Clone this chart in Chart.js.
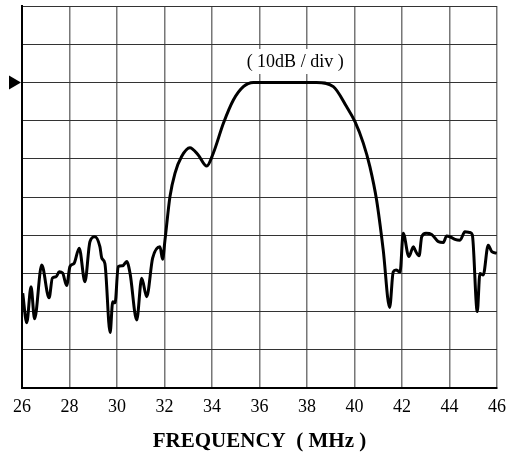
<!DOCTYPE html>
<html>
<head>
<meta charset="utf-8">
<script src="https://cdn.jsdelivr.net/npm/chart.js@4.4.1/dist/chart.umd.min.js"></script>
<style>
  html, body { margin: 0; padding: 0; background: #fff; }
  #wrap { width: 506px; height: 455px; }
</style>
</head>
<body>
<div id="wrap"><canvas id="spec"></canvas></div>
<script>
// frequency (MHz) and level (dB, 10 dB per division, 0..100 on screen)
const freqMHz = [
  26.03, 26.20, 26.38, 26.53, 26.83, 27.14, 27.28, 27.43, 27.57, 27.71,
  27.88, 28.02, 28.19, 28.41, 28.65, 28.86, 29.07, 29.28, 29.36, 29.49,
  29.71, 29.82, 29.92, 30.05, 30.24, 30.41, 30.55, 30.83, 31.04, 31.25,
  31.50, 31.81, 31.92, 32.02, 32.23, 32.44, 32.72, 33.07, 33.42, 33.78,
  34.05, 34.48, 34.90, 35.32, 35.74, 37.00, 38.40, 39.11, 39.67, 40.02,
  40.37, 40.65, 40.93, 41.21, 41.48, 41.63, 41.75, 41.92, 42.05, 42.29,
  42.48, 42.55, 42.72, 42.83, 43.01, 43.25, 43.53, 43.74, 43.88, 44.02,
  44.23, 44.44, 44.65, 44.86, 44.96, 45.17, 45.28, 45.42, 45.63, 45.78,
  45.99
];
const levelDb = [
  24.8, 17.1, 26.5, 18.1, 32.2, 23.6, 28.8, 29.1, 30.4, 30.1,
  26.8, 31.8, 32.6, 36.6, 27.8, 38.3, 39.6, 37.0, 34.0, 32.6,
  14.5, 22.6, 22.3, 31.8, 32.0, 33.1, 30.0, 17.8, 28.7, 23.9,
  34.0, 37.0, 33.7, 38.7, 50.1, 56.2, 60.6, 62.9, 61.0, 58.1,
  61.4, 69.3, 75.4, 78.9, 80.0, 80.0, 80.0, 78.9, 73.6, 69.7,
  64.1, 57.9, 49.2, 36.1, 21.1, 30.4, 30.9, 30.4, 40.5, 34.4,
  37.0, 36.1, 34.6, 39.6, 40.5, 40.2, 38.3, 38.1, 39.8, 39.6,
  38.9, 38.7, 40.9, 40.7, 40.1, 20.0, 30.0, 29.6, 37.4, 35.7,
  35.3
];
const refLevel = 80;
const scaleLabel = '( 10dB / div )';
const scaleLabelAt = { x: 37.5, y: 85.6 };

const serif = '"Liberation Serif", "DejaVu Serif", serif';

// arrow at the reference level + the "10dB / div" tag
const marks = {
  id: 'marks',
  afterDraw(chart) {
    const { ctx, chartArea, scales } = chart;
    const yRef = scales.y.getPixelForValue(refLevel);
    ctx.save();
    ctx.fillStyle = '#000';
    ctx.beginPath();
    ctx.moveTo(chartArea.left - 13, yRef - 7);
    ctx.lineTo(chartArea.left - 1, yRef);
    ctx.lineTo(chartArea.left - 13, yRef + 7);
    ctx.closePath();
    ctx.fill();

    const tx = scales.x.getPixelForValue(scaleLabelAt.x);
    const ty = scales.y.getPixelForValue(scaleLabelAt.y);
    ctx.font = '18px ' + serif;
    const w = ctx.measureText(scaleLabel).width;
    ctx.fillStyle = '#fff';
    ctx.fillRect(tx - w / 2 - 6, ty - 12, w + 12, 25);
    ctx.fillStyle = '#000';
    ctx.textAlign = 'center';
    ctx.textBaseline = 'middle';
    ctx.fillText(scaleLabel, tx, ty + 1);
    ctx.restore();
  }
};

new Chart(document.getElementById('spec'), {
  type: 'line',
  data: {
    datasets: [{
      data: freqMHz.map((f, i) => ({ x: f, y: levelDb[i] })),
      borderColor: '#000',
      borderWidth: 3,
      pointRadius: 0,
      cubicInterpolationMode: 'monotone',
      fill: false,
    }],
  },
  options: {
    responsive: true,
    maintainAspectRatio: false,
    animation: false,
    layout: { padding: { left: 0, top: 6, right: 9, bottom: 0 } },
    plugins: { legend: { display: false }, tooltip: { enabled: false } },
    scales: {
      x: {
        type: 'linear',
        min: 26,
        max: 46,
        afterFit(scale) {
          scale.height = 67;
          scale.paddingLeft = 0;
          scale.paddingRight = 0;
        },
        ticks: {
          stepSize: 2,
          color: '#000',
          padding: 8,
          font: { family: serif, size: 18 },
        },
        grid: { color: '#777', lineWidth: 1.5, drawTicks: false },
        border: { color: '#000', width: 2 },
        title: {
          display: true,
          text: 'FREQUENCY  ( MHz )',
          color: '#000',
          font: { family: serif, size: 21, weight: 'bold' },
          padding: { top: 0, bottom: 1 },
        },
      },
      y: {
        min: 0,
        max: 100,
        afterFit(scale) { scale.width = 22; },
        ticks: { stepSize: 10, display: false },
        grid: { color: '#333', lineWidth: 1, drawTicks: false },
        border: { color: '#000', width: 2 },
      },
    },
  },
  plugins: [marks],
});
</script>
</body>
</html>
